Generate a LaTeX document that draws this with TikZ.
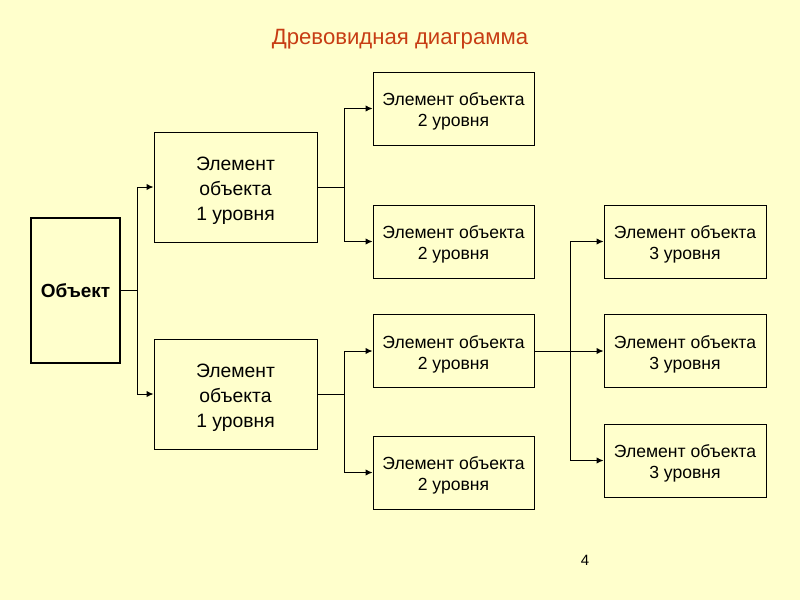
\documentclass[tikz,border=0pt]{standalone}
\usepackage{fontspec}
\setmainfont{Liberation Sans}
\usetikzlibrary{arrows.meta}
\definecolor{bgyellow}{rgb}{1.000000,1.000000,0.800000}%
\definecolor{titlered}{rgb}{0.780000,0.240000,0.080000}%
\newcommand{\boxlines}[1]{\raisebox{-2pt}[\height][\depth]{\begin{tabular}{@{}c@{}}#1\end{tabular}}}
\tikzset{
  objbox/.style={draw,line width=0.048cm,minimum width=1.78cm,minimum height=2.9cm,font=\fontsize{10.8}{13}\selectfont\bfseries},
  levone/.style={draw,line width=0.018cm,minimum width=3.26cm,minimum height=2.2cm,font=\fontsize{11}{14.2}\selectfont},
  levtwo/.style={draw,line width=0.018cm,minimum width=3.22cm,minimum height=1.46cm,font=\fontsize{10}{12}\selectfont},
  link/.style={line width=0.02cm},
  arr/.style={link,-{Latex[length=4pt,width=3.6pt]}}
}
\begin{document}
\begin{tikzpicture}
% background and page frame
\fill [bgyellow] (0.000000,0.000000) rectangle (16.000000,12.000000);%
\useasboundingbox (0.000000,0.000000) rectangle (16.000000,12.000000);%

% Drawing title
\node (title) [text=titlered,font=\fontsize{12.6}{15}\selectfont] at (8.000000,11.220000) {Древовидная диаграмма};%

% Drawing root
\node (obj) [objbox] at (1.510000,6.190000) {Объект};%

% Drawing level 1
\node (la) [levone] at (4.710000,8.260000) {\boxlines{Элемент\\ объекта\\ 1 уровня}};%
\node (lb) [levone] at (4.710000,4.120000) {\boxlines{Элемент\\ объекта\\ 1 уровня}};%

% Drawing level 2
\node (ma) [levtwo] at (9.070000,9.830000) {\boxlines{Элемент объекта\\ 2 уровня}};%
\node (mb) [levtwo] at (9.070000,7.170000) {\boxlines{Элемент объекта\\ 2 уровня}};%
\node (mc) [levtwo] at (9.070000,4.980000) {\boxlines{Элемент объекта\\ 2 уровня}};%
\node (md) [levtwo] at (9.070000,2.550000) {\boxlines{Элемент объекта\\ 2 уровня}};%

% Drawing level 3
\node (na) [levtwo,minimum width=3.24cm] at (13.700000,7.170000) {\boxlines{Элемент объекта\\ 3 уровня}};%
\node (nb) [levtwo,minimum width=3.24cm] at (13.700000,4.980000) {\boxlines{Элемент объекта\\ 3 уровня}};%
\node (nc) [levtwo,minimum width=3.24cm] at (13.700000,2.790000) {\boxlines{Элемент объекта\\ 3 уровня}};%

% Drawing page number
\node (pnum) [font=\fontsize{8.5}{10}\selectfont] at (11.700000,0.800000) {4};%

% Branch points
\coordinate (j1) at (2.740000,0.000000);%
\coordinate (j2) at (6.880000,0.000000);%
\coordinate (j3) at (11.400000,0.000000);%

% Drawing connectors root -> level 1
\draw [link] (obj.east) -- (obj.east -| j1);%
\draw [link] (j1 |- la.west) -- (j1 |- lb.west);%
\draw [arr] (j1 |- la.west) -- (la.west);%
\draw [arr] (j1 |- lb.west) -- (lb.west);%

% Drawing connectors level 1 -> level 2
\draw [link] (la.east) -- (la.east -| j2);%
\draw [link] (j2 |- ma.west) -- (j2 |- mb.west);%
\draw [arr] (j2 |- ma.west) -- (ma.west);%
\draw [arr] (j2 |- mb.west) -- (mb.west);%
\draw [link] (lb.east) -- (lb.east -| j2);%
\draw [link] (j2 |- mc.west) -- (j2 |- md.west);%
\draw [arr] (j2 |- mc.west) -- (mc.west);%
\draw [arr] (j2 |- md.west) -- (md.west);%

% Drawing connectors level 2 -> level 3
\draw [arr] (mc.east) -- (nb.west);%
\draw [link] (j3 |- na.west) -- (j3 |- nc.west);%
\draw [arr] (j3 |- na.west) -- (na.west);%
\draw [arr] (j3 |- nc.west) -- (nc.west);%
\end{tikzpicture}
\end{document}
